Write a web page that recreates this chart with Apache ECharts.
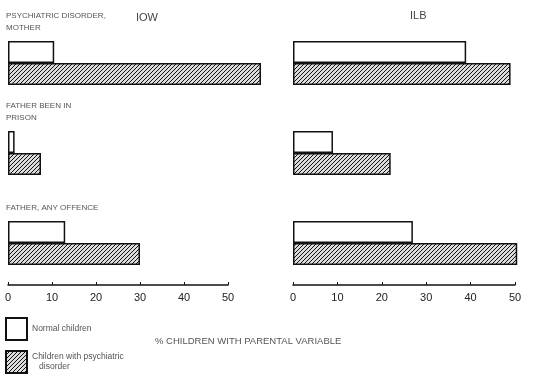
<!DOCTYPE html>
<html>
<head>
<meta charset="utf-8">
<script src="https://cdn.jsdelivr.net/npm/echarts@6/dist/echarts.min.js"></script>
<style>
    html, body { margin: 0; padding: 0; background: #fff; }
    #main { width: 536px; height: 380px; }
</style>
</head>
<body>
<div id="main"></div>
<script>
var categories = ['PSYCHIATRIC DISORDER,\nMOTHER', 'FATHER BEEN IN\nPRISON', 'FATHER, ANY OFFENCE'];
var iowNormal = [10.5, 1.5, 13];
var iowDisorder = [57.5, 7.5, 30];
var ilbNormal = [39, 9, 27];
var ilbDisorder = [49, 22, 50.5];
var panelTitles = ['IOW', 'ILB'];
var seriesNames = ['Normal children', 'Children with psychiatric disorder'];

var chart = echarts.init(document.getElementById('main'));

// small hatch tile for the psychiatric group
var hatch = document.createElement('canvas');
hatch.width = 4;
hatch.height = 4;
var ctx = hatch.getContext('2d');
ctx.fillStyle = '#dcdcdc';
ctx.fillRect(0, 0, 4, 4);
ctx.strokeStyle = '#111';
ctx.lineWidth = 1;
ctx.beginPath();
ctx.moveTo(0, 4); ctx.lineTo(4, 0);
ctx.moveTo(-1, 1); ctx.lineTo(1, -1);
ctx.moveTo(3, 5); ctx.lineTo(5, 3);
ctx.stroke();

var font = 'Liberation Sans';
var normalStyle = { color: '#fff', borderColor: '#111', borderWidth: 1.5 };
var hatchStyle = { color: { image: hatch, repeat: 'repeat' }, borderColor: '#111', borderWidth: 1.5 };

function makeXAxis(idx) {
    return {
        type: 'value', gridIndex: idx, min: 0, max: 50, interval: 10,
        position: 'bottom', offset: -3,
        splitLine: { show: false },
        axisLine: { show: true, lineStyle: { color: '#111', width: 1.5 } },
        axisTick: { show: true, inside: true, length: 3, lineStyle: { color: '#111' } },
        axisLabel: { color: '#222', fontSize: 11, fontFamily: font, margin: 7 }
    };
}

function makeYAxis(idx, showLabels) {
    return {
        type: 'category', gridIndex: idx, data: categories, inverse: true,
        axisLine: { show: false }, axisTick: { show: false },
        axisLabel: {
            show: showLabels, inside: true, margin: -2, align: 'left',
            verticalAlign: 'bottom', padding: [0, 0, 29, 0], lineHeight: 12,
            color: '#555', fontSize: 8, fontFamily: font
        }
    };
}

function makeBar(name, data, idx, style) {
    return {
        name: name, type: 'bar', data: data, xAxisIndex: idx, yAxisIndex: idx,
        barWidth: 22, barGap: '0%', clip: false, itemStyle: style,
        emphasis: { disabled: true }
    };
}

var option = {
    animation: false,
    title: [
        { text: panelTitles[0], left: 131, top: 7, textStyle: { fontSize: 11, fontWeight: 'normal', color: '#444', fontFamily: font } },
        { text: panelTitles[1], left: 405, top: 5, textStyle: { fontSize: 11, fontWeight: 'normal', color: '#444', fontFamily: font } },
        { text: '% CHILDREN WITH PARENTAL VARIABLE', left: 155, top: 336, padding: 0, textStyle: { fontSize: 9.5, fontWeight: 'normal', color: '#555', fontFamily: font } }
    ],
    legend: {
        orient: 'vertical', left: 5, top: 317, padding: 0,
        itemWidth: 21, itemHeight: 22, itemGap: 9,
        icon: 'rect', selectedMode: false,
        textStyle: { fontSize: 8.5, color: '#555', fontFamily: font, lineHeight: 10 },
        formatter: function (name) {
            return name === seriesNames[1] ? 'Children with psychiatric\n   disorder' : name;
        },
        data: seriesNames
    },
    grid: [
        { left: 8, width: 220, top: 18, height: 270 },
        { left: 293, width: 222, top: 18, height: 270 }
    ],
    xAxis: [makeXAxis(0), makeXAxis(1)],
    yAxis: [makeYAxis(0, true), makeYAxis(1, false)],
    series: [
        makeBar(seriesNames[0], iowNormal, 0, normalStyle),
        makeBar(seriesNames[1], iowDisorder, 0, hatchStyle),
        makeBar(seriesNames[0], ilbNormal, 1, normalStyle),
        makeBar(seriesNames[1], ilbDisorder, 1, hatchStyle)
    ]
};

chart.setOption(option);
</script>
</body>
</html>
